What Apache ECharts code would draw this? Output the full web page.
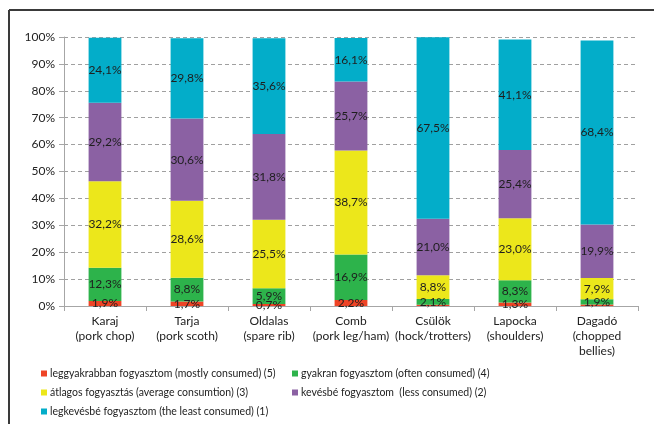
<!DOCTYPE html>
<html>
<head>
<meta charset="utf-8">
<script src="https://cdn.jsdelivr.net/npm/echarts@6/dist/echarts.min.js"></script>
<style>
  html, body { margin: 0; padding: 0; background: #fff; }
  #chart { width: 654px; height: 424px; }
</style>
</head>
<body>
<div id="chart"></div>
<script>
// Pork cuts and consumption frequency shares (%)
const categories = [
  'Karaj\n(pork chop)',
  'Tarja\n(pork scoth)',
  'Oldalas\n(spare rib)',
  'Comb\n(pork leg/ham)',
  'Csülök\n(hock/trotters)',
  'Lapocka\n(shoulders)',
  'Dagadó\n(chopped\nbellies)'
];

const seriesNames = [
  'leggyakrabban fogyasztom (mostly consumed) (5)',
  'gyakran fogyasztom (often consumed) (4)',
  'átlagos fogyasztás (average consumtion) (3)',
  'kevésbé fogyasztom  (less consumed) (2)',
  'legkevésbé fogyasztom (the least consumed) (1)'
];

const mostly  = [1.9, 1.7, 0.7, 2.2, 0.5, 1.3, 0.6];
const often   = [12.3, 8.8, 5.9, 16.9, 2.1, 8.3, 1.9];
const average = [32.2, 28.6, 25.5, 38.7, 8.8, 23.0, 7.9];
const less    = [29.2, 30.6, 31.8, 25.7, 21.0, 25.4, 19.9];
const least   = [24.1, 29.8, 35.6, 16.1, 67.5, 41.1, 68.4];

// segments drawn without a value label
const unlabeledMostly = [4, 6];

const yTicks = [0, 10, 20, 30, 40, 50, 60, 70, 80, 90, 100];

const colors = ['#ee4426', '#2db34b', '#ece71b', '#8b61a3', '#03adc9'];
const font = 'Lato, sans-serif';

const fmt = p => p.value.toFixed(1).replace('.', ',') + '%';

function makeSeries(idx, values, hidden) {
  return {
    name: seriesNames[idx],
    type: 'bar',
    stack: 'total',
    barWidth: '40%',
    itemStyle: { color: colors[idx] },
    label: {
      show: true,
      position: 'inside',
      color: '#1e1e1e',
      fontFamily: font,
      fontSize: 12,
      formatter: fmt
    },
    data: values.map((v, i) => hidden && hidden.includes(i)
      ? { value: v, label: { show: false } }
      : v)
  };
}

const legendPos = [
  { left: 41, top: 368 },
  { left: 292, top: 368 },
  { left: 41, top: 387 },
  { left: 292, top: 387 },
  { left: 41, top: 406 }
];

const chart = echarts.init(document.getElementById('chart'), null, { renderer: 'canvas' });
chart.setOption({
  animation: false,
  color: colors,
  grid: { left: 64, right: 16, top: 37, bottom: 118, containLabel: false },
  legend: seriesNames.map((n, i) => ({
    data: [n],
    left: legendPos[i].left,
    top: legendPos[i].top,
    icon: 'rect',
    itemWidth: 6,
    itemHeight: 6,
    itemGap: 0,
    padding: 0,
    selectedMode: false,
    textStyle: { fontFamily: font, fontSize: 10.5, color: '#222', padding: [0, 0, 0, -2] }
  })),
  xAxis: {
    type: 'category',
    data: categories,
    axisLine: { lineStyle: { color: '#a6a6a6', width: 1 } },
    axisTick: { show: true, length: 5, lineStyle: { color: '#a6a6a6' } },
    axisLabel: {
      fontFamily: font, fontSize: 12, color: '#222',
      lineHeight: 15, margin: 8, interval: 0
    }
  },
  yAxis: {
    type: 'value',
    min: yTicks[0],
    max: yTicks[yTicks.length - 1],
    interval: 10,
    axisLine: { show: true, lineStyle: { color: '#a6a6a6' } },
    axisTick: { show: true, length: 5, lineStyle: { color: '#a6a6a6' } },
    axisLabel: {
      fontFamily: font, fontSize: 12, color: '#222', margin: 9,
      formatter: v => v + '%'
    },
    splitLine: { lineStyle: { color: '#a0a0a0', type: [4, 3], width: 1 } }
  },
  graphic: [
    { type: 'line', shape: { x1: 9, y1: 10, x2: 654, y2: 10 }, style: { stroke: '#3a3a3a', lineWidth: 2 }, silent: true },
    { type: 'line', shape: { x1: 9, y1: 10, x2: 9, y2: 424 }, style: { stroke: '#3a3a3a', lineWidth: 2 }, silent: true }
  ],
  series: [
    makeSeries(0, mostly, unlabeledMostly),
    makeSeries(1, often),
    makeSeries(2, average),
    makeSeries(3, less),
    makeSeries(4, least)
  ]
});
</script>
</body>
</html>
